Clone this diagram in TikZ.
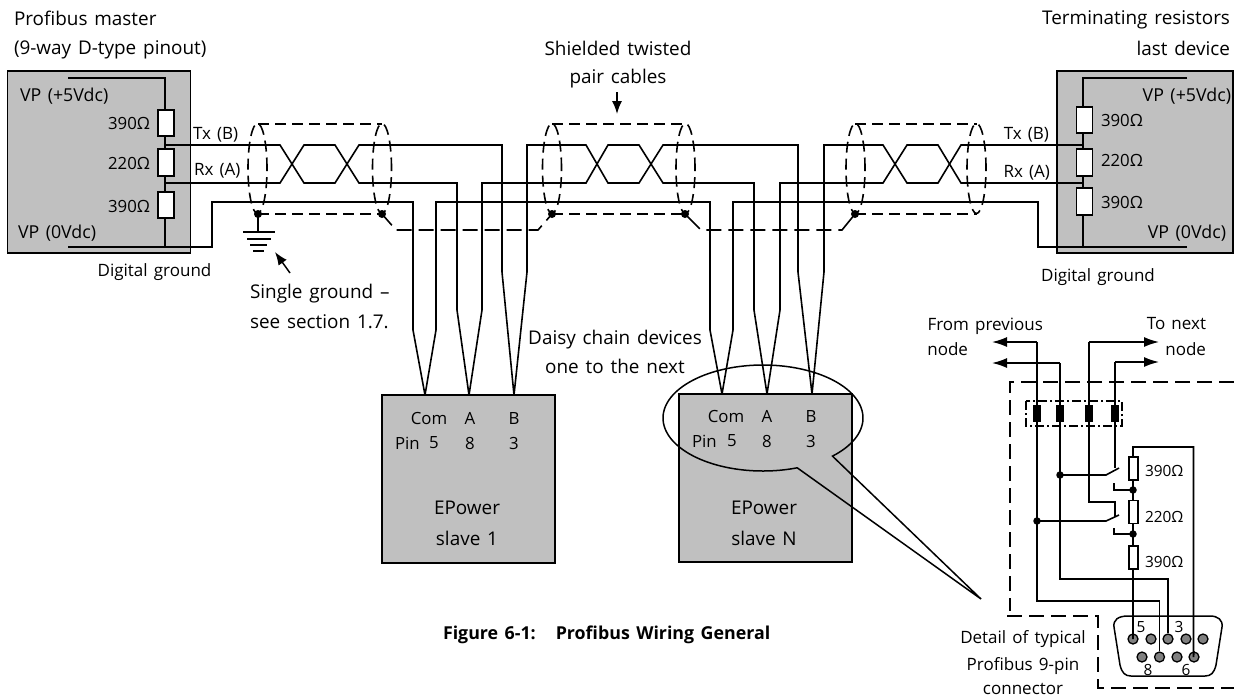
\documentclass[tikz,border=0pt]{standalone}
\usepackage{fontspec}
\setmainfont[WordSpace=1.4]{Open Sans}
\usetikzlibrary{arrows.meta,positioning}
\definecolor{boxgrey}{HTML}{C0C0C0}
\definecolor{pingrey}{HTML}{808080}
\tikzset{
  wire/.style={line width=1.6pt,line cap=butt,line join=miter},
  greybox/.style={draw,line width=1.6pt,fill=boxgrey,inner sep=0,outer sep=0},
  resistor/.style={draw,line width=1.6pt,fill=white,inner sep=0,outer sep=0,minimum width=16pt},
  smallres/.style={draw,line width=1.2pt,fill=white,inner sep=0,outer sep=0,minimum width=9pt,minimum height=23pt},
  terminal/.style={fill=black,inner sep=0,minimum width=8pt,minimum height=17pt},
  shield/.style={line width=1.6pt,dash pattern=on 11pt off 6pt},
  outerdash/.style={line width=1.6pt,dash pattern=on 15pt off 7pt},
  dashdot/.style={line width=1.3pt,dash pattern=on 9pt off 3pt on 2pt off 3pt},
  big/.style={inner sep=0,outer sep=0,font=\fontsize{18.9}{21}\selectfont},
  txt/.style={inner sep=0,outer sep=0,font=\fontsize{17.8}{20}\selectfont},
  vals/.style={inner sep=0,outer sep=0,font=\fontsize{16.8}{19}\selectfont},
  small/.style={inner sep=0,outer sep=0,font=\fontsize{17}{19}\selectfont},
  tiny/.style={inner sep=0,outer sep=0,font=\fontsize{15.4}{17}\selectfont},
  tip/.style={-{Latex[length=15pt,width=10pt]},line width=1.5pt},
  pin/.style={circle,draw,line width=1.3pt,fill=pingrey,inner sep=0,minimum size=10pt},
  jdot/.style={circle,fill=black,inner sep=0,minimum size=7.5pt},
  bigdot/.style={circle,fill=black,inner sep=0,minimum size=8pt},
}
\begin{document}
\begin{tikzpicture}[x=1pt,y=-1pt]
\useasboundingbox (0,0) rectangle (1234,697);
% ---------- boxes
\node[greybox,minimum width=183pt,minimum height=182pt] (master) at (99,162) {};
\node[greybox,minimum width=176pt,minimum height=182pt] (term) at (1145,162) {};
\node[greybox,minimum width=173pt,minimum height=168pt] (slave1) at (468.5,479) {};
\node[greybox,minimum width=173pt,minimum height=168pt] (slaveN) at (765.5,478) {};
% ---------- master rail
\coordinate (mt) at (165,78); \coordinate (mtl) at (68,78);
\coordinate (mb) at (165,247); \coordinate (mbl) at (68,247);
\draw[wire] (mtl) -- (mt) -- (mb);
\draw[wire] (mbl) -- (mb);
\node[resistor,minimum height=26pt] (mr1) at (166,123) {};
\node[resistor,minimum height=27pt] (mr2) at (166,162.5) {};
\node[resistor,minimum height=26pt] (mr3) at (166,205) {};
% ---------- terminator rail
\coordinate (tt) at (1083,78); \coordinate (ttr) at (1187,78);
\coordinate (tb) at (1083,247); \coordinate (tbr) at (1187,247);
\draw[wire] (ttr) -- (tt) -- (tb);
\draw[wire] (tbr) -- (tb);
\node[resistor,minimum height=26pt] (tr1) at (1084.5,120) {};
\node[resistor,minimum height=27pt] (tr2) at (1084.5,162.5) {};
\node[resistor,minimum height=27pt] (tr3) at (1084.5,201.5) {};
% ---------- slave entry points
\coordinate (s1c) at (425,395); \coordinate (s1a) at (469,395); \coordinate (s1b) at (514,395);
\coordinate (sNc) at (722,394); \coordinate (sNa) at (767,394); \coordinate (sNb) at (812,394);
% ---------- ground (Com) wires
\draw[wire] (mb) -- (212,247) -- (212,202) -- (413,202) -- (413,330) -- (s1c);
\draw[wire] (s1c) -- (436,330) -- (436,202) -- (710,202) -- (710,330) -- (sNc);
\draw[wire] (sNc) -- (733,330) -- (733,202) -- (1038,202) -- (1038,247) -- (tb);
% ---------- cable 1
\draw[wire] (166,145) -- (280,145) -- (304,183) -- (335,183) -- (359,145) -- (502,145) -- (502,272) -- (s1b);
\draw[wire] (166,183) -- (280,183) -- (304,145) -- (335,145) -- (359,183) -- (457,183) -- (457,310) -- (s1a);
% ---------- cable 2
\draw[wire] (s1b) -- (527,272) -- (527,145) -- (586,145) -- (608,183) -- (639,183) -- (663,145) -- (798,145) -- (798,272) -- (sNb);
\draw[wire] (s1a) -- (482,310) -- (482,183) -- (586,183) -- (608,145) -- (639,145) -- (663,183) -- (754,183) -- (754,310) -- (sNa);
% ---------- cable 3
\draw[wire] (sNb) -- (824,272) -- (824,145) -- (883,145) -- (907,183) -- (938,183) -- (961,145) -- (1083,145);
\draw[wire] (sNa) -- (780,310) -- (780,183) -- (883,183) -- (907,145) -- (938,145) -- (961,183) -- (1083,183);
% ---------- shields
\foreach \cx in {257.5,382,552,685.5,855.5,976.5}
  \draw[shield] (\cx,168.5) ellipse[x radius=9.5pt,y radius=45pt];
\coordinate (a1) at (258,214); \coordinate (a2) at (382,214);
\coordinate (a3) at (552,214); \coordinate (a4) at (685,214);
\coordinate (a5) at (855,214); \coordinate (a6) at (977,214);
\draw[shield] (258,124) -- (382,124);
\draw[shield] (552,124) -- (685,124);
\draw[shield] (855,124) -- (977,124);
\draw[shield] (a1) -- (a2);
\draw[shield] (a3) -- (a4);
\draw[shield] (a5) -- (a6);
\draw[shield,dash pattern=on 15pt off 7pt] (a2) -- (396,230) -- (538,230) -- (a3);
\draw[shield,dash pattern=on 21pt off 7pt on 15pt off 7pt on 15pt off 7pt on 15pt off 7pt on 15pt off 7pt on 15pt off 7pt on 15pt off 7pt] (a4) -- (701,230) -- (842,230) -- (a5);
\foreach \p in {a1,a2,a3,a4,a5} \node[bigdot] at (\p) {};
% ---------- ground symbol
\coordinate (g1) at (258,232);
\draw[wire] (a1) -- (g1);
\draw[wire] (243,232) -- (275,232);
\draw[wire] (247,239) -- (271,239);
\draw[wire] (250,245) -- (267,245);
\draw[wire] (253,251) -- (264,251);
\coordinate (garrowtail) at (290,273); \coordinate (garrowtip) at (275,252);
\draw[-{Latex[length=13pt,width=10pt]},line width=1.5pt] (garrowtail) -- (garrowtip);
% ---------- cables arrow
\coordinate (carrowtail) at (617,92); \coordinate (carrowtip) at (617,114);
\draw[-{Latex[length=13pt,width=10pt]},line width=1.5pt] (carrowtail) -- (carrowtip);
% ---------- callout
\coordinate (tiploc) at (981,599);
\draw[line width=1.5pt] plot[domain=46:-290,samples=120,smooth] ({763+100*cos(\x)},{418+53*sin(\x)}) -- (tiploc) -- cycle;
% ---------- detail
\draw[outerdash] (1234,382) -- (1010,382) -- (1010,611);
\draw[outerdash] (1007,616) -- (1098,616) -- (1098,688) -- (1234,688);
\node[terminal] (t1) at (1037,413.5) {};
\node[terminal] (t2) at (1060,413.5) {};
\node[terminal] (t3) at (1089,413.5) {};
\node[terminal] (t4) at (1115,413.5) {};
\draw[dashdot] (1026,401) rectangle (1122,426);
\coordinate (fp1) at (992,342); \coordinate (fp2) at (992,363);
\coordinate (tn1) at (1159,342); \coordinate (tn2) at (1159,362);
\node[pin] (p5) at (1133,639) {};
\node[pin] (p4) at (1151,639) {};
\node[pin] (p3) at (1168,639) {};
\node[pin] (p2) at (1186,639) {};
\node[pin] (p1) at (1203,639) {};
\node[pin] (p9) at (1142,657) {};
\node[pin] (p8) at (1159.5,657) {};
\node[pin] (p7) at (1177,657) {};
\node[pin] (p6) at (1194,657) {};
\draw[line width=1.5pt] (1128,616) -- (1210,616) .. controls (1218,616) and (1223,620) .. (1222,627) -- (1216,665) .. controls (1214,673) and (1211,676) .. (1205,676) -- (1131,676) .. controls (1125,676) and (1122,673) .. (1120,665) -- (1114,627) .. controls (1113,620) and (1118,616) .. (1128,616) -- cycle;
\draw[tip] (1037,342) -- (fp1);
\draw[tip] (1060,363) -- (fp2);
\draw[wire] (1037,342) -- (1037,601) -- (1159.5,601) -- (p8.north);
\draw[wire] (1060,363) -- (1060,579) -- (1168,579) -- (p3.north);
\draw[wire] (1089,342) -- (1089,502) -- (1115,502) -- (1115,517);
\draw[tip] (1089,342) -- (tn1);
\draw[wire] (1115,362) -- (1115,468);
\draw[tip] (1115,362) -- (tn2);
% switches
\coordinate (sw1) at (1060,475); \coordinate (sw2) at (1037,521);
\coordinate (j1) at (1133,490); \coordinate (j2) at (1133,534);
\draw[wire] (sw1) -- (1106,475) -- (1119,468);
\draw[wire] (sw2) -- (1106,521) -- (1119,515);
\draw[wire] (1114,483) -- (1114,490) -- (j1);
\draw[wire] (1114,528) -- (1114,534) -- (j2);
\node[jdot] at (sw1) {};
\node[jdot] at (sw2) {};
\node[jdot] at (j1) {};
\node[jdot] at (j2) {};
% resistor column
\draw[wire] (1133,457) -- (1133,447) -- (1193.5,447) -- (1193.5,657) -- (p6.north);
\draw[wire] (1133,457) -- (1133,639) -- (p5.north);
\node[smallres] (dr1) at (1133.5,468.5) {};
\node[smallres] (dr2) at (1133.5,512) {};
\node[smallres] (dr3) at (1133.5,557.5) {};
% ---------- text
\node[big,anchor=west] (l1) at (14,18) {Profibus master};
\node[big,anchor=west] (l2) at (14,49.5) {(9-way D-type pinout)};
\node[big,anchor=east] (l3) at (1230,20) {Terminating resistors};
\node[big,anchor=east] (l4) at (1230,48) {last device};
\node[big] (l5) at (618,48) {Shielded twisted};
\node[big] (l6) at (618,79) {pair cables};
\node[txt,anchor=west] (m1) at (20,96.5) {VP (+5Vdc)};
\node[vals,anchor=east] (m2) at (150,123) {390Ω};
\node[vals,anchor=east] (m3) at (150,163) {220Ω};
\node[vals,anchor=east] (m4) at (150,206) {390Ω};
\node[txt,anchor=west] (m5) at (18,233.5) {VP (0Vdc)};
\node[small,anchor=west] (m6) at (193,134.5) {Tx (B)};
\node[small,anchor=west] (m7) at (194,171) {Rx (A)};
\node[small] (m8) at (154.5,272) {Digital ground};
\node[txt,anchor=east] (r1) at (1231,96.5) {VP (+5Vdc)};
\node[vals,anchor=west] (r2) at (1101,120) {390Ω};
\node[vals,anchor=west] (r3) at (1101,160) {220Ω};
\node[vals,anchor=west] (r4) at (1101,202) {390Ω};
\node[txt,anchor=east] (r5) at (1226,233.5) {VP (0Vdc)};
\node[small,anchor=east] (r6) at (1049,134.5) {Tx (B)};
\node[small,anchor=east] (r7) at (1050,173) {Rx (A)};
\node[small] (r8) at (1098,277) {Digital ground};
\node[big,anchor=west] (g1t) at (250,294) {Single ground –};
\node[big,anchor=west] (g2t) at (250,322) {see section 1.7.};
\node[big] (d1) at (615,340) {Daisy chain devices};
\node[big] (d2) at (615,366) {one to the next};
\node[vals] (c1) at (429,418) {Com};
\node[vals] (c2) at (470,418) {A};
\node[vals] (c3) at (514,418) {B};
\node[vals,anchor=west] (c4) at (395,443) {Pin};
\node[vals] (c5) at (434,443) {5};
\node[vals] (c6) at (470,443) {8};
\node[vals] (c7) at (514,443) {3};
\node[big] (c8) at (467,508) {EPower};
\node[big] (c9) at (467,538) {slave 1};
\node[vals] (e1) at (726,416) {Com};
\node[vals] (e2) at (767,416) {A};
\node[vals] (e3) at (811,416) {B};
\node[vals,anchor=west] (e4) at (692,441) {Pin};
\node[vals] (e5) at (732,441) {5};
\node[vals] (e6) at (767,441) {8};
\node[vals] (e7) at (811,441) {3};
\node[big] (e8) at (764,508) {EPower};
\node[big] (e9) at (764,538) {slave N};
\node[inner sep=0,outer sep=0,anchor=west,font=\fontsize{17.8}{20}\selectfont\bfseries] (f1) at (443,635) {Figure 6-1:\hspace{20pt}Profibus Wiring General};
\node[small,anchor=east] (n1) at (1043,326) {From previous};
\node[small,anchor=east] (n2) at (968,349) {node};
\node[small,anchor=east] (n3) at (1206,324) {To next};
\node[small,anchor=east] (n4) at (1206,349) {node};
\node[tiny,anchor=west] (n5) at (1145,471) {390Ω};
\node[tiny,anchor=west] (n6) at (1145,517) {220Ω};
\node[tiny,anchor=west] (n7) at (1145,562) {390Ω};
\node[small] (n8) at (1023,639) {Detail of typical};
\node[small] (n9) at (1023,666) {Profibus 9-pin};
\node[small] (n10) at (1023,689) {connector};
\node[tiny] (q5) at (1141,627) {5};
\node[tiny] (q3) at (1179,627) {3};
\node[tiny] (q8) at (1148,670) {8};
\node[tiny] (q6) at (1186,670) {6};
\end{tikzpicture}
\end{document}
